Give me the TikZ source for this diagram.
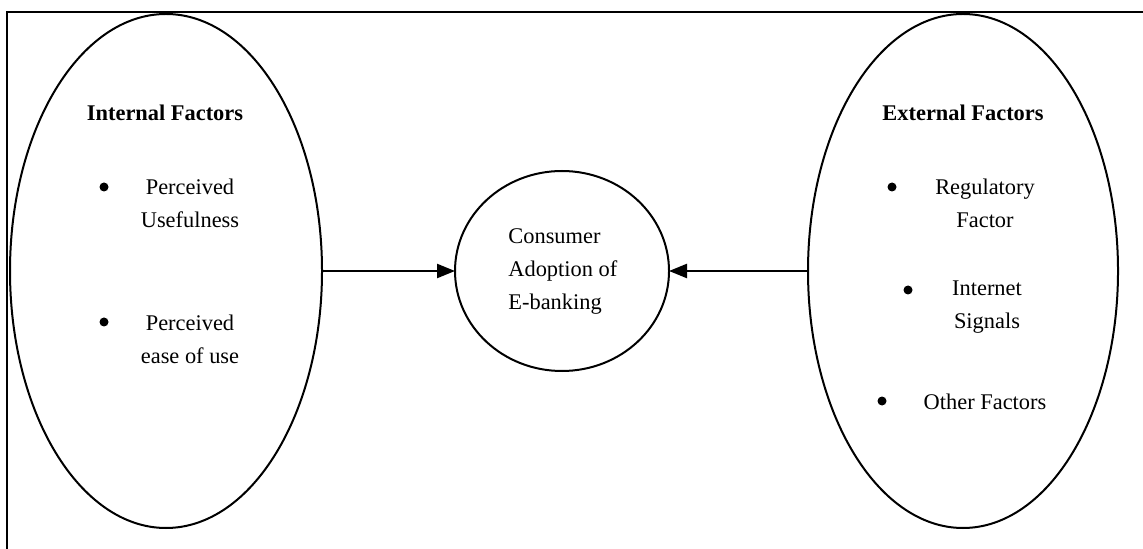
\documentclass[tikz,border=0pt]{standalone}
\usepackage{fontspec}
\setmainfont{Liberation Serif}
\usetikzlibrary{arrows.meta,shapes.geometric}

\begin{document}
\begin{tikzpicture}[x=0.5pt, y=-0.5pt, >={Triangle[length=9pt,width=7pt]},
  font=\fontsize{11.2}{16.5}\selectfont,
  oval/.style={draw, ellipse, line width=1pt, inner sep=0pt, outer sep=0pt},
  head/.style={font=\fontsize{11.2}{16.5}\selectfont\bfseries, inner sep=0pt},
  item/.style={align=center, inner sep=0pt},
  dot/.style={circle, fill, inner sep=0pt, minimum size=4.5pt},
  sig/.style={->, line width=1.2pt}]
  \useasboundingbox (0,0) rectangle (1143,549);
  \draw[line width=1.1pt] (7,549) -- (7,12) -- (1143,12);
  \node[oval, minimum width=156pt, minimum height=257pt] (internal) at (166,271) {};
  \node[oval, minimum width=155pt, minimum height=257pt] (external) at (963,271) {};
  \node[oval, minimum width=107pt, minimum height=100pt] (adopt) at (562,271) {};
  \node[head] (intl) at (165,113) {Internal Factors};
  \node[dot] (d1) at (104,187) {};
  \node[item] (pu) at (190,203) {Perceived\\Usefulness};
  \node[dot] (d2) at (104,322) {};
  \node[item] (pe) at (190,339) {Perceived\\ease of use};
  \node[head] (extl) at (963,113) {External Factors};
  \node[dot] (d3) at (892,187) {};
  \node[item] (rf) at (985,203) {Regulatory\\Factor};
  \node[dot] (d4) at (908,290) {};
  \node[item] (is) at (987,307) {Internet\\Signals};
  \node[dot] (d5) at (882,401) {};
  \node[item] (of) at (985,402) {Other Factors};
  \node[align=left, inner sep=0pt, anchor=west] (cae) at (508,272) {Consumer\\Adoption of\\E-banking};
  \draw[sig] (internal.east) -- (adopt.west);
  \draw[sig] (external.west) -- (adopt.east);
\end{tikzpicture}
\end{document}
